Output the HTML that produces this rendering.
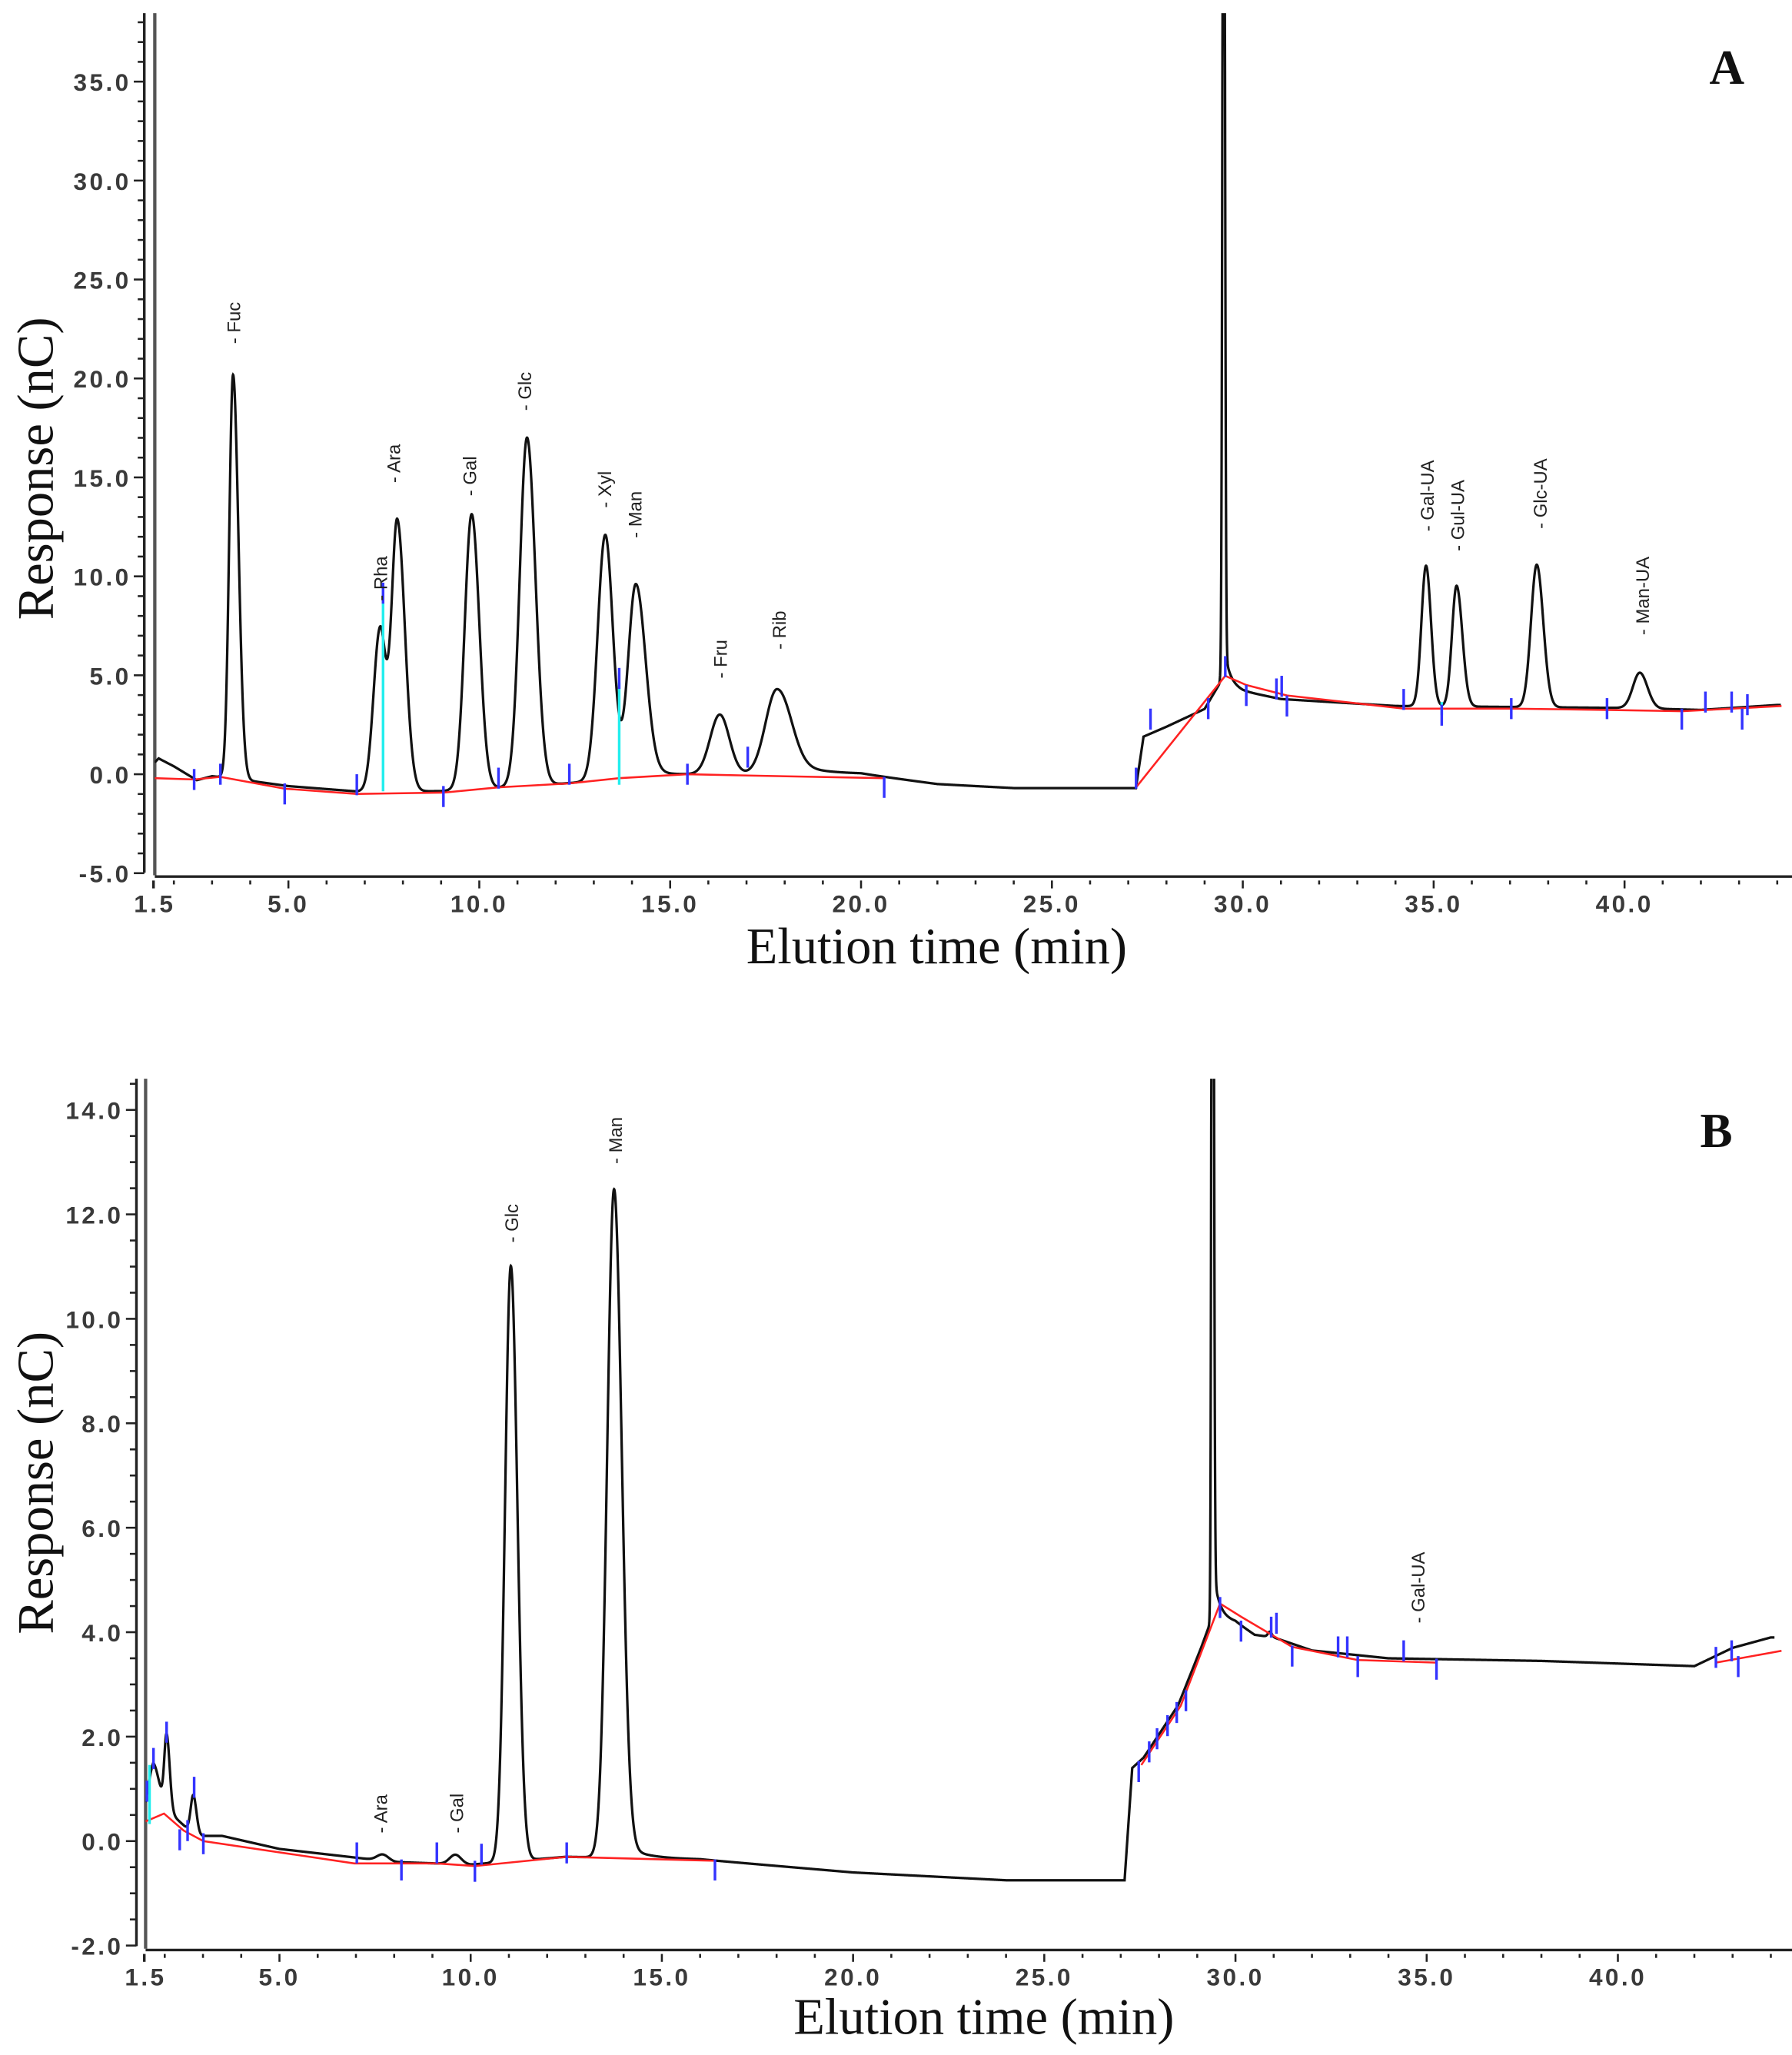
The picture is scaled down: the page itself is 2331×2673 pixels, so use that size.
<!DOCTYPE html>
<html><head><meta charset="utf-8"><style>
html,body{margin:0;padding:0;background:#fff;}
svg{display:block}
.tk{font-family:"Liberation Sans",sans-serif;font-size:18.5px;fill:#3a3a3a;letter-spacing:2px;font-weight:bold}
.ti{font-family:"Liberation Serif",serif;font-size:39px;fill:#111}
.lb{font-family:"Liberation Sans",sans-serif;font-size:14px;fill:#222}
.pl{font-family:"Liberation Serif",serif;font-size:37px;font-weight:bold;fill:#111}
</style></head><body>
<svg id="s" width="2331" height="2673" viewBox="0 0 1366 1566" preserveAspectRatio="none" xmlns="http://www.w3.org/2000/svg">
<defs>
<clipPath id="cA"><rect x="118" y="10" width="1248" height="660"/></clipPath>
<clipPath id="cB"><rect x="111" y="822" width="1255" height="666"/></clipPath>
</defs>
<g id="g"></g>
<text class="pl" x="1303" y="64">A</text>
<text class="pl" x="1296" y="874">B</text>
<text class="ti" x="714" y="734" text-anchor="middle">Elution time (min)</text>
<text class="ti" x="750" y="1550" text-anchor="middle">Elution time (min)</text>
<text class="ti" transform="translate(40,357) rotate(-90)" text-anchor="middle">Response (nC)</text>
<text class="ti" transform="translate(40,1130) rotate(-90)" text-anchor="middle">Response (nC)</text>
</svg>
<script>
var NS="http://www.w3.org/2000/svg",G=document.getElementById("g");
function el(t,a,txt){var e=document.createElementNS(NS,t);for(var k in a)e.setAttribute(k,a[k]);if(txt!=null)e.textContent=txt;G.appendChild(e);return e;}
function interp(k,t){if(t<=k[0][0])return k[0][1];for(var i=1;i<k.length;i++){if(t<=k[i][0]){var a=k[i-1],b=k[i];return a[1]+(b[1]-a[1])*(t-a[0])/(b[0]-a[0]);}}return k[k.length-1][1];}
function sig(base,peaks,t){var v=interp(base,t);peaks.forEach(function(p){var s=t<p[0]?p[2]:(p[3]||p[2]);var d=(t-p[0])/s;v+=p[1]*Math.exp(-0.5*d*d);if(p[4]&&t>p[0]){var u=(t-p[0])/(p[6]||s);v+=p[4]*Math.exp(-(t-p[0])/p[5])*(1-Math.exp(-u*u));}});return v;}
function panel(c){
 var X=function(t){return c.x0+(t-1.5)*c.px;},Y=function(v){return c.y0-v*c.py;};
 el("line",{x1:c.ax,y1:c.top,x2:c.ax,y2:c.bot,stroke:"#222","stroke-width":2});
 el("line",{x1:c.x0,y1:c.top,x2:c.x0,y2:c.bot+2,stroke:"#555","stroke-width":2.5});
 el("line",{x1:c.x0,y1:c.bot+3,x2:1366,y2:c.bot+3,stroke:"#222","stroke-width":2});
 el("line",{x1:c.x0-1,y1:c.bot+6,x2:c.x0-1,y2:c.bot+12,stroke:"#222","stroke-width":2});
 for(var v=c.ymin;v<=c.ymax+1e-6;v+=c.ymi){var y=Y(v);var maj=Math.abs(v/c.yma-Math.round(v/c.yma))<1e-6;
  el("line",{x1:c.ax-(maj?8:5),y1:y,x2:c.ax,y2:y,stroke:"#222","stroke-width":1.5});
  if(maj)el("text",{class:"tk",x:c.ax-10,y:y+7,"text-anchor":"end"},v.toFixed(1));}
 for(var t=2;t<=44;t++){var x=X(t);el("line",{x1:x,y1:c.bot+6,x2:x,y2:c.bot+(t%5==0?12:9),stroke:"#222","stroke-width":1.5});}
 var xl=[1.5,5,10,15,20,25,30,35,40];xl.forEach(function(t){el("text",{class:"tk",x:X(t),y:c.bot+30,"text-anchor":"middle"},t.toFixed(1));});
 var d="";for(var t=1.5;t<=44.1;t+=0.005){var y=Y(sig(c.base,c.peaks,t));d+=(d?"L":"M")+X(t).toFixed(2)+" "+Math.max(y,c.top-5).toFixed(2);}
 el("path",{d:d,fill:"none",stroke:"#111","stroke-width":1.9,"clip-path":c.clip});
 c.red.forEach(function(seg){el("polyline",{points:seg.map(function(p){return p.join(",");}).join(" "),fill:"none",stroke:"#f22","stroke-width":1.5});});
 c.cyan.forEach(function(l){el("line",{x1:l[0],y1:l[1],x2:l[0],y2:l[2],stroke:"#2ee","stroke-width":2});});
 c.blue.forEach(function(b){el("line",{x1:b[0],y1:b[1]-8,x2:b[0],y2:b[1]+8,stroke:"#33f","stroke-width":2});});
 c.labels.forEach(function(l){el("text",{class:"lb",transform:"translate("+(l[0]+5)+","+l[1]+") rotate(-90)"},"- "+l[2]);});
}
panel({x0:118,ax:110,px:29.1,y0:590,py:15.08,top:10,bot:665,ymin:-5,ymax:38,yma:5,ymi:1,clip:"url(#cA)",
 base:[[1.5,0.6],[1.6,0.8],[2,0.4],[2.6,-0.3],[3,-0.1],[3.5,-0.2],[5,-0.6],[7,-0.9],[9,-0.85],[12,-0.5],[14,-0.2],[16,0],[20,0],[22,-0.5],[24,-0.7],[27.2,-0.7],[27.4,1.9],[28,2.4],[29,3.3],[29.4,4.6],[30,4.2],[31,3.8],[34,3.45],[40,3.35],[42,3.25],[44,3.5]],
 peaks:[[3.55,20.4,0.1,0.14],[7.4,8.2,0.17,0.15],[7.85,13.7,0.15,0.2],[9.8,13.9,0.18,0.2],[11.25,17.6,0.19,0.22],[13.3,12.4,0.2,0.2],[14.1,9.8,0.2,0.25,0.6,0.6,0.3],[16.3,3.0,0.25,0.25],[17.8,4.3,0.3,0.35,0.8,0.8,0.4],[29.5,60,0.03,0.03,2.0,0.15,0.05],[34.8,7.1,0.12,0.13],[35.6,6.1,0.12,0.15],[37.7,7.2,0.15,0.17],[40.4,1.8,0.18,0.2]],
 red:[[[118,593],[148,594],[168,592],[217,601],[272,605],[338,604],[380,600],[434,597],[472,593],[524,590],[570,591],[674,593]],[[866,600],[934,515],[950,522],[981,530],[1070,540],[1152,540],[1225,541],[1282,542],[1358,538]]],
 cyan:[[292,445,603],[472,520,598],[1099,535,545]],
 blue:[[148,594],[168,590],[217,605],[272,598],[292,452],[338,607],[380,593],[434,590],[472,517],[524,590],[570,577],[674,600],[866,593],[877,548],[921,540],[934,508],[950,530],[973,525],[977,523],[981,538],[1070,533],[1099,545],[1152,540],[1225,540],[1282,548],[1300,535],[1320,535],[1328,548],[1332,537]],
 labels:[[178,262,"Fuc"],[290,458,"Rha"],[300,368,"Ara"],[358,378,"Gal"],[400,313,"Glc"],[461,387,"Xyl"],[484,410,"Man"],[549,517,"Fru"],[594,495,"Rib"],[1088,405,"Gal-UA"],[1111,420,"Gul-UA"],[1174,403,"Glc-UA"],[1252,484,"Man-UA"]]});
panel({x0:111,ax:104,px:29.15,y0:1403,py:39.8,top:822,bot:1483,ymin:-2,ymax:14.6,yma:2,ymi:0.5,clip:"url(#cB)",
 base:[[1.5,0.5],[1.7,0.9],[2.2,0.5],[2.8,0.1],[3.5,0.1],[5,-0.15],[8,-0.4],[10,-0.45],[12.5,-0.3],[16,-0.35],[20,-0.6],[24,-0.75],[27.1,-0.75],[27.3,1.4],[27.6,1.6],[28.5,2.6],[29.1,3.7],[29.4,4.3],[30,4.2],[30.5,3.95],[31,3.9],[32,3.65],[34,3.5],[38,3.45],[42,3.35],[43,3.7],[44,3.9]],
 peaks:[[1.7,0.6,0.15],[2.05,1.4,0.06,0.08],[2.75,0.75,0.07,0.08],[7.7,0.12,0.15],[9.6,0.18,0.15],[11.05,11.4,0.15,0.17],[13.75,12.8,0.18,0.2,0.4,0.5,0.3],[29.4,25,0.025,0.03,1.0,0.15,0.04],[30.9,0.1,0.05]],
 red:[[[111,1388],[125,1382],[140,1395],[155,1403],[270,1420],[306,1420],[333,1420],[362,1422],[432,1415],[545,1418]],[[870,1345],[900,1300],[930,1222],[946,1232],[985,1255],[1035,1265],[1095,1267]],[[1308,1267],[1358,1258]]],
 cyan:[[114,1345,1390]],
 blue:[[112,1365],[117,1340],[127,1320],[137,1402],[143,1395],[148,1362],[155,1405],[272,1412],[306,1425],[333,1412],[362,1426],[367,1413],[432,1412],[545,1425],[868,1350],[876,1335],[882,1325],[890,1315],[897,1305],[904,1296],[930,1225],[946,1243],[969,1240],[973,1237],[985,1262],[1020,1255],[1027,1255],[1035,1270],[1070,1258],[1095,1272],[1308,1263],[1320,1258],[1325,1270]],
 labels:[[290,1397,"Ara"],[348,1397,"Gal"],[390,947,"Glc"],[469,887,"Man"],[1081,1237,"Gal-UA"]]});
</script>
</body></html>
